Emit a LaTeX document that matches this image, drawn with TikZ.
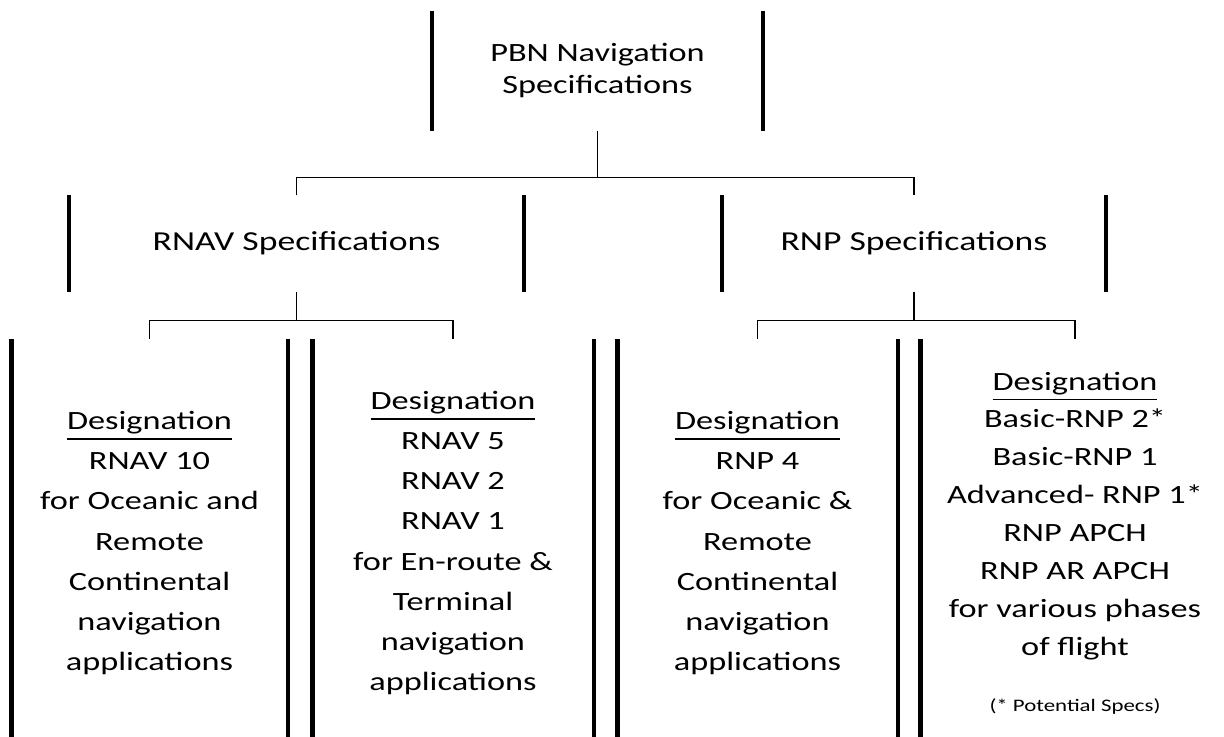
\documentclass[tikz,border=0pt]{standalone}
\usepackage{fontspec}
\setmainfont{Carlito}[FakeStretch=1.3]
\usetikzlibrary{positioning, calc}

\begin{document}
\begin{tikzpicture}[x=0.01cm, y=-0.01cm,
  head/.style={align=center, inner sep=0pt, font=\fontsize{7.5}{9.1}\selectfont},
  spec/.style={align=center, inner sep=0pt, minimum height=0.95cm,
               font=\fontsize{7.8}{9.4}\selectfont},
  desig/.style={align=center, inner sep=0pt, minimum height=4.06cm,
                font=\fontsize{7.5}{11.4}\selectfont},
  bar/.style={line width=1.3pt, black},
  link/.style={line width=0.4pt, black},
  note/.style={font=\fontsize{5}{6}\selectfont}
]
\useasboundingbox (0,0) rectangle (1224,736);
\clip (0,0) rectangle (1224,736);
% ----- top -----
\node[head, minimum width=3.29cm, minimum height=1.18cm] (pbn) at (597.5,71)
     {PBN Navigation\\Specifications};
% ----- second row -----
\node[spec, minimum width=4.53cm] (rnav) at (296.5,243.5) {RNAV Specifications};
\node[spec, minimum width=3.82cm] (rnp) at (914,243.5) {RNP Specifications};
% ----- designations -----
\node[desig, minimum width=2.75cm] (b1) at (149.5,543)
     {\underline{Designation}\\RNAV 10\\for Oceanic and\\Remote\\Continental\\navigation\\applications};
\node[desig, minimum width=2.80cm] (b2) at (453,543)
     {\underline{Designation}\\RNAV 5\\RNAV 2\\RNAV 1\\for En-route \&\\Terminal\\navigation\\applications};
\node[desig, minimum width=2.79cm] (b3) at (757.5,543)
     {\underline{Designation}\\RNP 4\\for Oceanic \&\\Remote\\Continental\\navigation\\applications};
\node[desig, minimum width=3.08cm, font=\fontsize{7.5}{10.8}\selectfont] (b4) at (1075,543)
     {\underline{Designation}\\Basic-RNP 2*\\Basic-RNP 1\\Advanced- RNP 1*\\RNP APCH\\RNP AR APCH\\for various phases\\of flight\\[5pt]{\fontsize{5}{6}\selectfont (* Potential Specs)}};
% ----- side bars -----
\foreach \n in {pbn, rnav, rnp, b1, b2, b3}
  \draw[bar] (\n.north west) -- (\n.south west) (\n.north east) -- (\n.south east);
\draw[bar] (b4.north west) -- (b4.south west);
% ----- connectors -----
\draw[link] (pbn.south) -- ++(0,47) coordinate (j0);
\draw[link] (rnav.north) |- (j0) -| (rnp.north);
\draw[link] (rnav.south) -- ++(0,29) coordinate (j1);
\draw[link] (b1.north) |- (j1) -| (b2.north);
\draw[link] (rnp.south) -- ++(0,29) coordinate (j2);
\draw[link] (b3.north) |- (j2) -| (b4.north);
\end{tikzpicture}
\end{document}
